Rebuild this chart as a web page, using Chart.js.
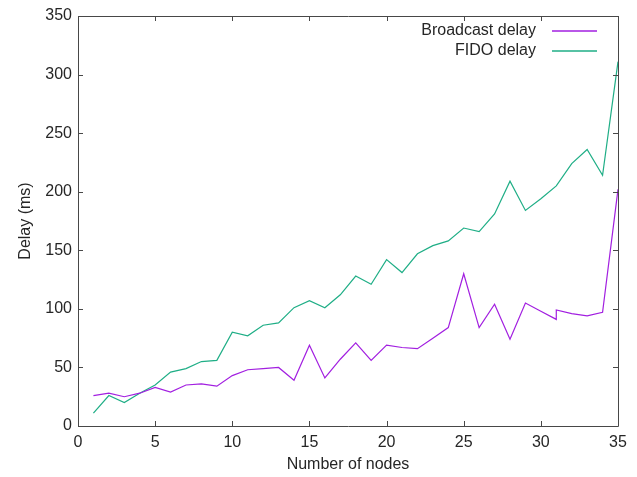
<!DOCTYPE html>
<html>
<head>
<meta charset="utf-8">
<script src="https://cdn.jsdelivr.net/npm/chart.js@4.4.1/dist/chart.umd.min.js"></script>
<style>
  html, body { margin: 0; padding: 0; background: #fff; }
  #wrap { width: 637px; height: 477px; }
</style>
</head>
<body>
<div id="wrap"><canvas id="chart" width="637" height="477"></canvas></div>
<script>
// ===== DATA =====
// node counts (31 appears twice in the source data: a vertical step on the broadcast curve)
const nodesBroadcast = [1, 2, 3, 4, 5, 6, 7, 8, 9, 10, 11, 12, 13, 14, 15, 16, 17, 18, 19, 20,
  21, 22, 23, 24, 25, 26, 27, 28, 29, 30, 31, 31, 32, 33, 34, 35];
const broadcastDelay = [26, 28, 25, 28, 33, 29, 35, 36, 34, 43, 48, 49, 50, 39, 69, 41, 57, 71, 56, 69,
  67, 66, 75, 84, 130, 84, 104, 74, 105, 98, 91, 99, 96, 94, 97, 202];

const nodesFido = [1, 2, 3, 4, 5, 6, 7, 8, 9, 10, 11, 12, 13, 14, 15, 16, 17, 18, 19, 20,
  21, 22, 23, 24, 25, 26, 27, 28, 29, 30, 31, 32, 33, 34, 35];
const fidoDelay = [11, 26, 20, 28, 35, 46, 49, 55, 56, 80, 77, 86, 88, 101, 107, 101, 112, 128, 121, 142,
  131, 147, 154, 158, 169, 166, 181, 209, 184, 194, 205, 224, 236, 214, 311];

const xTicks = [0, 5, 10, 15, 20, 25, 30, 35];
const yTicks = [0, 50, 100, 150, 200, 250, 300, 350];

const seriesNames = ['Broadcast delay', 'FIDO delay'];
const seriesColors = ['#a21fe0', '#1fae86'];

// ===== HELPERS =====
const pairs = (xs, ys) => xs.map((x, i) => ({ x, y: ys[i] }));
const FONT = 'Liberation Sans, Arial, sans-serif';
const TEXT = '#262626';
const BORDER = '#484848';

// gnuplot-style frame: border all round, inward ticks mirrored on top/right, key top-right
const gnuFrame = {
  id: 'gnuFrame',
  afterDatasetsDraw(chart) {
    const { ctx, chartArea: a, scales } = chart;
    const tl = 5;
    ctx.save();
    ctx.strokeStyle = BORDER;
    ctx.lineWidth = 1;
    ctx.beginPath();
    ctx.rect(Math.round(a.left) + 0.5, Math.round(a.top) + 0.5,
      Math.round(a.right - a.left), Math.round(a.bottom - a.top));
    xTicks.forEach(v => {
      const px = Math.round(scales.x.getPixelForValue(v)) + 0.5;
      ctx.moveTo(px, a.bottom); ctx.lineTo(px, a.bottom - tl);
      ctx.moveTo(px, a.top); ctx.lineTo(px, a.top + tl);
    });
    yTicks.forEach(v => {
      const py = Math.round(scales.y.getPixelForValue(v)) + 0.5;
      ctx.moveTo(a.left, py); ctx.lineTo(a.left + tl, py);
      ctx.moveTo(a.right, py); ctx.lineTo(a.right - tl, py);
    });
    ctx.stroke();
    ctx.restore();

    // key
    seriesNames.forEach((name, i) => {
      const y = Math.round(a.top + 15 + i * 20);
      ctx.save();
      ctx.font = '16px ' + FONT;
      ctx.textAlign = 'right';
      ctx.textBaseline = 'middle';
      ctx.fillStyle = TEXT;
      ctx.fillText(name, a.right - 82, y);
      ctx.restore();

      ctx.save();
      ctx.strokeStyle = seriesColors[i];
      ctx.lineWidth = 1.5;
      ctx.beginPath();
      ctx.moveTo(a.right - 66, y);
      ctx.lineTo(a.right - 21, y);
      ctx.stroke();
      ctx.restore();
    });
  }
};

// ===== CHART =====
Chart.defaults.font.family = FONT;
Chart.defaults.font.size = 16;
Chart.defaults.color = TEXT;

new Chart(document.getElementById('chart'), {
  type: 'line',
  data: {
    datasets: [
      { label: seriesNames[0], data: pairs(nodesBroadcast, broadcastDelay), borderColor: seriesColors[0] },
      { label: seriesNames[1], data: pairs(nodesFido, fidoDelay), borderColor: seriesColors[1] }
    ]
  },
  options: {
    responsive: false,
    animation: false,
    layout: { padding: { top: 16, right: 19, left: 0, bottom: 0 } },
    elements: {
      line: { borderWidth: 1.2, tension: 0, fill: false },
      point: { radius: 0, hoverRadius: 0 }
    },
    plugins: { legend: { display: false }, tooltip: { enabled: false } },
    scales: {
      x: {
        type: 'linear', min: 0, max: 35,
        afterBuildTicks: s => { s.ticks = xTicks.map(value => ({ value })); },
        afterFit: s => { s.height = 51; },
        grid: { display: false, drawTicks: false },
        border: { display: false },
        ticks: { padding: 7, maxRotation: 0, autoSkip: false },
        title: { display: true, text: 'Number of nodes', padding: { top: 0, bottom: 3 } }
      },
      y: {
        type: 'linear', min: 0, max: 350,
        afterBuildTicks: s => { s.ticks = yTicks.map(value => ({ value })); },
        afterFit: s => { s.width = 78; },
        grid: { display: false, drawTicks: false },
        border: { display: false },
        ticks: { padding: 6, autoSkip: false },
        title: { display: true, text: 'Delay (ms)', padding: { top: 16, bottom: 0 } }
      }
    }
  },
  plugins: [gnuFrame]
});
</script>
</body>
</html>
